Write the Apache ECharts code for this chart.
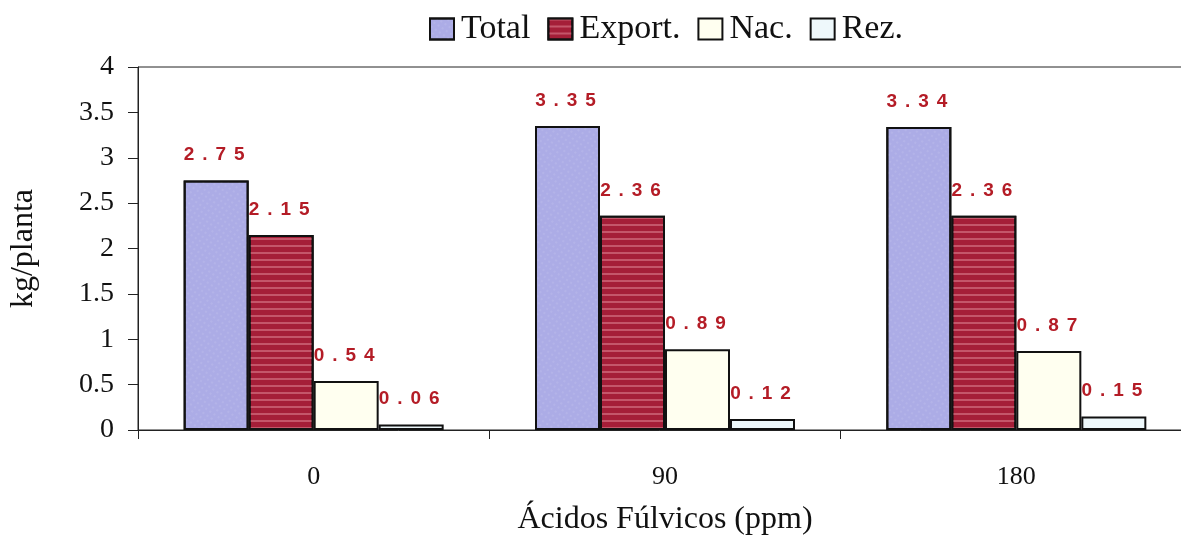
<!DOCTYPE html>
<html>
<head>
<meta charset="utf-8">
<script src="https://cdn.jsdelivr.net/npm/echarts@6/dist/echarts.min.js"></script>
<style>
  html, body { margin: 0; padding: 0; background: #ffffff; }
  #chart { width: 1181px; height: 536px; }
</style>
</head>
<body>
<div id="chart"></div>
<script>
// Fulvic acid doses (ppm) and yield per plant (kg/planta)
const categories = ['0', '90', '180'];
const seriesNames = ['Total', 'Export.', 'Nac.', 'Rez.'];
const totalValues = [2.75, 3.35, 3.34];
const exportValues = [2.15, 2.36, 2.36];
const nacValues = [0.54, 0.89, 0.87];
const rezValues = [0.06, 0.12, 0.15];
const yTicks = [0, 0.5, 1, 1.5, 2, 2.5, 3, 3.5, 4];

const serif = '"Liberation Serif", "Times New Roman", serif';
const fills = ['#acace6', '#a51e38', '#fffff0', '#eef8fb'];

// Values printed above bars with wide letter spacing
function spaced(p) {
  return p.value.toFixed(2).split('').join('\u2004\u200A');
}

const decals = [
  { symbol: 'rect', symbolSize: 0.6, dashArrayX: [2, 3], dashArrayY: [2, 3], rotation: 0.6, color: 'rgba(255,255,255,0.3)' },
  { symbol: 'rect', symbolSize: 1, dashArrayX: [1, 0], dashArrayY: [2, 5], color: 'rgba(255,190,200,0.35)' },
  null,
  null
];

function makeSeries(name, values, idx) {
  const item = { color: fills[idx], borderColor: '#111', borderWidth: 2 };
  if (decals[idx]) item.decal = decals[idx];
  return {
    name: name,
    type: 'bar',
    data: values,
    barWidth: 65,
    barGap: '0%',
    itemStyle: item,
    label: {
      show: true,
      position: 'top',
      distance: 16,
      offset: [-2, 0],
      formatter: spaced,
      color: '#b41c26',
      fontFamily: '"Liberation Sans", Arial, sans-serif',
      fontWeight: 'bold',
      fontSize: 19
    }
  };
}

const chart = echarts.init(document.getElementById('chart'), null, { renderer: 'canvas' });
chart.setOption({
  animation: false,
  backgroundColor: '#ffffff',
  legend: {
    top: 7,
    left: 424,
    itemWidth: 24,
    itemHeight: 21,
    itemGap: 17,
    icon: 'rect',
    textStyle: { fontFamily: serif, fontSize: 34, color: '#111', padding: [0, 0, 0, 2] },
    itemStyle: { borderColor: '#111', borderWidth: 2 },
    data: seriesNames
  },
  grid: {
    left: 138,
    top: 67,
    width: 1054,
    height: 363,
    outerBoundsMode: 'none',
    containLabel: false,
    show: true,
    borderColor: '#222',
    borderWidth: 1
  },
  xAxis: {
    type: 'category',
    data: categories,
    name: 'Ácidos Fúlvicos (ppm)',
    nameLocation: 'middle',
    nameGap: 74,
    nameTextStyle: { fontFamily: serif, fontSize: 32, color: '#111' },
    axisLine: { lineStyle: { color: '#222', width: 1 } },
    axisTick: { show: true, length: 9, lineStyle: { color: '#222' } },
    axisLabel: { fontFamily: serif, fontSize: 26, color: '#111', margin: 34 }
  },
  yAxis: {
    type: 'value',
    min: 0,
    max: 4,
    interval: 0.5,
    name: 'kg/planta',
    nameLocation: 'middle',
    nameRotate: 90,
    nameGap: 98,
    nameTextStyle: { fontFamily: serif, fontSize: 32, color: '#111' },
    axisLine: { show: true, lineStyle: { color: '#222', width: 1 } },
    axisTick: { show: true, length: 10, lineStyle: { color: '#222' } },
    splitLine: { show: false },
    axisLabel: {
      fontFamily: serif,
      fontSize: 28,
      color: '#111',
      margin: 24,
      formatter: function (v) { return yTicks.indexOf(v) >= 0 ? String(v) : ''; }
    }
  },
  series: [
    makeSeries(seriesNames[0], totalValues, 0),
    makeSeries(seriesNames[1], exportValues, 1),
    makeSeries(seriesNames[2], nacValues, 2),
    makeSeries(seriesNames[3], rezValues, 3)
  ]
});
</script>
</body>
</html>
